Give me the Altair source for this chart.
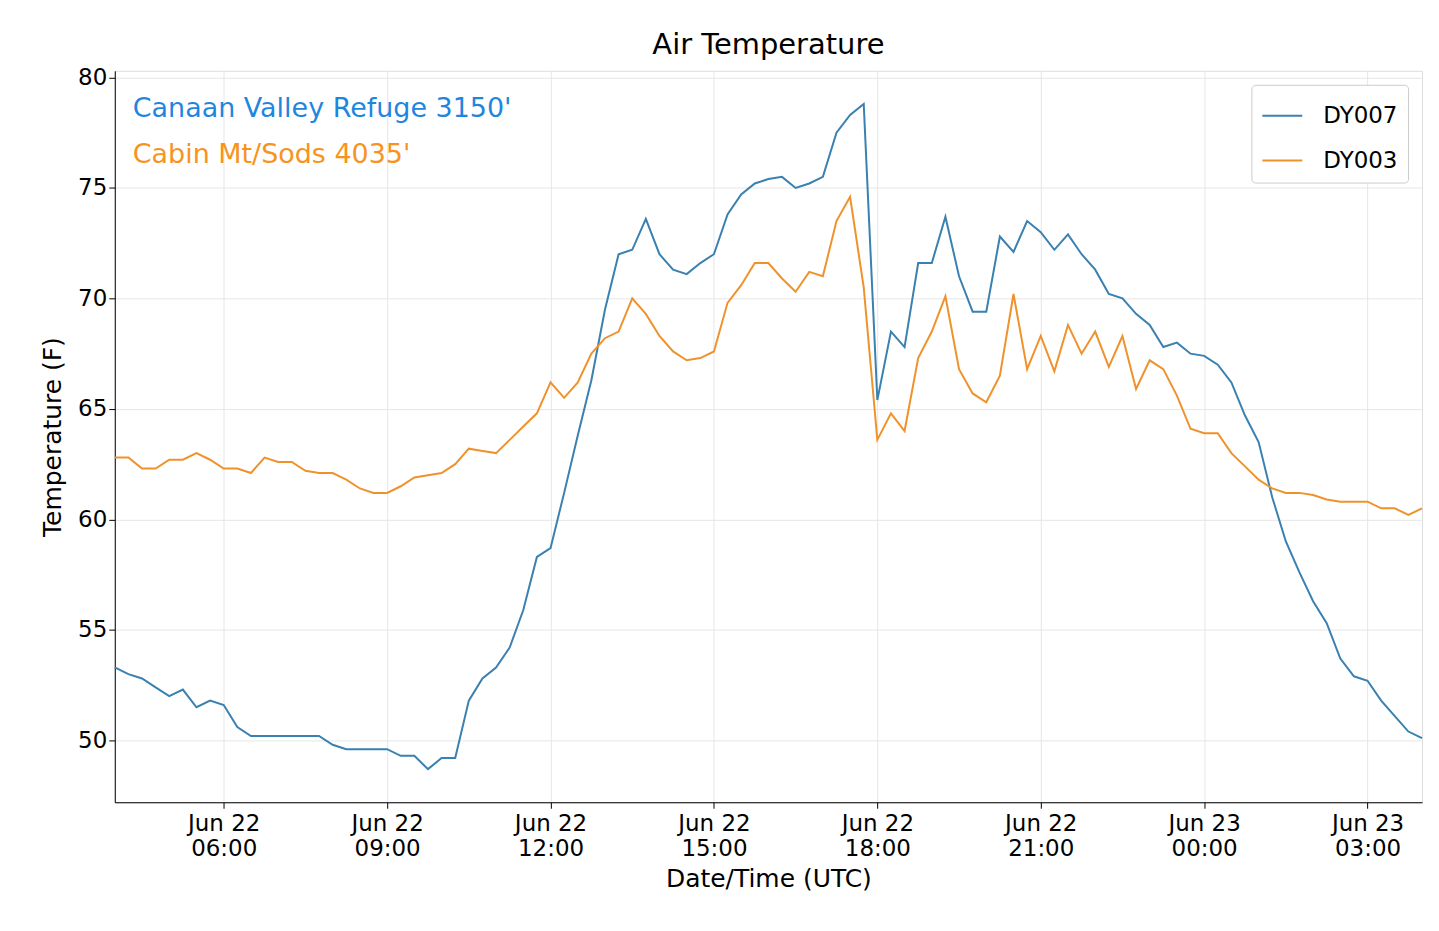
import altair as alt
import pandas as pd

start = "2023-06-22 04:00"
dy007 = [53.3,53.0,52.8,52.4,52.0,52.3,51.5,51.8,51.6,50.6,50.2,50.2,50.2,50.2,50.2,50.2,
         49.8,49.6,49.6,49.6,49.6,49.3,49.3,48.7,49.2,49.2,51.8,52.8,53.3,54.2,55.9,58.3,
         58.7,61.2,63.8,66.3,69.5,72.0,72.2,73.6,72.0,71.3,71.1,71.6,72.0,73.8,74.7,75.2,
         75.4,75.5,75.0,75.2,75.5,77.5,78.3,78.8,65.4,68.5,67.8,71.6,71.6,73.7,71.0,69.4,
         69.4,72.8,72.1,73.5,73.0,72.2,72.9,72.0,71.3,70.2,70.0,69.3,68.8,67.8,68.0,67.5,
         67.4,67.0,66.2,64.7,63.5,61.0,59.0,57.6,56.3,55.3,53.7,52.9,52.7,51.8,51.1,50.4,50.1]
dy003 = [62.8,62.8,62.3,62.3,62.7,62.7,63.0,62.7,62.3,62.3,62.1,62.8,62.6,62.6,62.2,62.1,
         62.1,61.8,61.4,61.2,61.2,61.5,61.9,62.0,62.1,62.5,63.2,63.1,63.0,63.6,64.2,64.8,
         66.2,65.5,66.2,67.5,68.2,68.5,70.0,69.3,68.3,67.6,67.2,67.3,67.6,69.8,70.6,71.6,
         71.6,70.9,70.3,71.2,71.0,73.5,74.6,70.5,63.6,64.8,64.0,67.3,68.5,70.1,66.8,65.7,
         65.3,66.5,70.2,66.8,68.3,66.7,68.8,67.5,68.5,66.9,68.3,65.9,67.2,66.8,65.6,64.1,
         63.9,63.9,63.0,62.4,61.8,61.4,61.2,61.2,61.1,60.9,60.8,60.8,60.8,60.5,60.5,60.2,60.5]

times = pd.date_range(start, periods=len(dy007), freq="15min")
df = pd.concat([
    pd.DataFrame({"t": times, "v": dy007, "s": "DY007"}),
    pd.DataFrame({"t": times, "v": dy003, "s": "DY003"}),
])
df["t"] = df["t"].dt.strftime("%Y-%m-%dT%H:%M:%S")

font = "DejaVu Sans"
x = alt.X("t:T", title="Date/Time (UTC)",
          scale=alt.Scale(domain=["2023-06-22T04:00:00", "2023-06-23T04:00:00"], nice=False),
          axis=alt.Axis(values=[f"2023-06-22T{h:02d}:00:00" for h in (6, 9, 12, 15, 18, 21)]
                        + ["2023-06-23T00:00:00", "2023-06-23T03:00:00"],
                        labelExpr="[timeFormat(datum.value, '%b %d'), timeFormat(datum.value, '%H:%M')]",
                        labelFontSize=23, titleFontSize=25, labelColor="black", titleColor="black",
                        titleFontWeight="normal", labelFont=font, titleFont=font,
                        gridColor="#e6e6e6", tickColor="black", domainColor="black",
                        tickSize=6, labelPadding=4, titlePadding=6))
y = alt.Y("v:Q", title="Temperature (F)",
          scale=alt.Scale(domain=[47.2, 80.3], nice=False, zero=False),
          axis=alt.Axis(values=[50, 55, 60, 65, 70, 75, 80], labelFontSize=23, titleFontSize=25,
                        labelColor="black", titleColor="black", titleFontWeight="normal",
                        labelFont=font, titleFont=font, gridColor="#e6e6e6",
                        tickColor="black", domainColor="black", tickSize=6, titlePadding=12))

lines = alt.Chart(df).mark_line(strokeWidth=2).encode(
    x=x, y=y,
    color=alt.Color("s:N", title=None,
                    scale=alt.Scale(domain=["DY007", "DY003"], range=["#3a80b0", "#f0922c"]),
                    legend=alt.Legend(orient="top-right", symbolType="stroke", symbolSize=1600,
                                      symbolStrokeWidth=2, labelFontSize=23, labelFont=font,
                                      labelColor="black", strokeColor="#cccccc", padding=10,
                                      cornerRadius=4, fillColor="white", rowPadding=12,
                                      labelOffset=20, offset=14)))

txt = pd.DataFrame({"label": ["Canaan Valley Refuge 3150'", "Cabin Mt/Sods 4035'"],
                    "yy": [38, 84], "c": ["#1f86e0", "#f7931e"]})
ann = alt.Chart(txt).mark_text(align="left", baseline="middle", fontSize=27, font=font).encode(
    x=alt.value(18), y=alt.Y("yy:Q", scale=None),
    text="label:N", color=alt.Color("c:N", scale=None))

chart = alt.layer(lines, ann).properties(
    width=1310, height=733,
    padding={"left": 32, "top": 22, "right": 5, "bottom": 5},
    title=alt.TitleParams("Air Temperature", fontSize=29, font=font, fontWeight="normal",
                          color="black", offset=6)
).configure_view(stroke="black", strokeWidth=1.2).configure(background="white")

chart.save("out.html", embed_options={"renderer": "svg", "actions": False})
